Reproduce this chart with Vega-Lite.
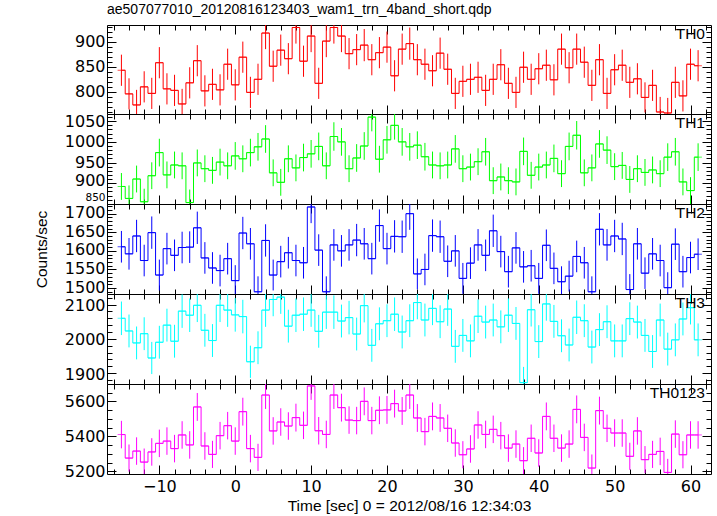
{
"$schema": "https://vega.github.io/schema/vega-lite/v6.json",
"padding": {"left": 33, "top": 3, "right": 7, "bottom": 2},
"title": {"text": "ae507077010_20120816123403_wam1_trn_4band_short.qdp", "anchor": "start", "frame": "group", "font": "Liberation Sans", "fontSize": 14, "fontWeight": "normal", "color": "#000", "offset": 7},
"config": {
 "view": {"stroke": "#000", "strokeWidth": 1},
 "axis": {"domain": false, "grid": false, "tickColor": "#000", "tickWidth": 1, "labelFont": "DejaVu Sans", "labelFontSize": 16, "labelColor": "#000", "titleFont": "Liberation Sans", "titleFontSize": 15.5, "titleFontWeight": "normal", "titleColor": "#000", "labelFlush": false, "labelOverlap": false, "format": "d"}
},
"spacing": 0,
"bounds": "flush",
"datasets": {
"th0": [
{"t":-15,"v":843,"e":31},{"t":-14,"v":796,"e":31},{"t":-13,"v":774,"e":30},{"t":-12,"v":810,"e":31},{"t":-11,"v":797,"e":31},{"t":-10,"v":858,"e":31},{"t":-9,"v":806,"e":31},{"t":-8,"v":803,"e":31},{"t":-7,"v":776,"e":30},{"t":-6,"v":818,"e":31},{"t":-5,"v":862,"e":31},{"t":-4,"v":802,"e":31},{"t":-3,"v":815,"e":31},{"t":-2,"v":804,"e":31},{"t":-1,"v":855,"e":31},{"t":0,"v":814,"e":31},{"t":1,"v":869,"e":31},{"t":2,"v":799,"e":31},{"t":3,"v":825,"e":31},{"t":4,"v":917,"e":32},{"t":5,"v":851,"e":31},{"t":6,"v":883,"e":31},{"t":7,"v":866,"e":31},{"t":8,"v":928,"e":32},{"t":9,"v":861,"e":31},{"t":10,"v":911,"e":32},{"t":11,"v":817,"e":31},{"t":12,"v":901,"e":32},{"t":13,"v":928,"e":32},{"t":14,"v":911,"e":32},{"t":15,"v":876,"e":31},{"t":16,"v":884,"e":31},{"t":17,"v":893,"e":32},{"t":18,"v":864,"e":31},{"t":19,"v":878,"e":31},{"t":20,"v":889,"e":31},{"t":21,"v":832,"e":31},{"t":22,"v":885,"e":31},{"t":23,"v":896,"e":32},{"t":24,"v":864,"e":31},{"t":25,"v":855,"e":31},{"t":26,"v":842,"e":31},{"t":27,"v":877,"e":31},{"t":28,"v":845,"e":31},{"t":29,"v":797,"e":31},{"t":30,"v":821,"e":31},{"t":31,"v":825,"e":31},{"t":32,"v":829,"e":31},{"t":33,"v":803,"e":31},{"t":34,"v":825,"e":31},{"t":35,"v":854,"e":31},{"t":36,"v":817,"e":31},{"t":37,"v":799,"e":31},{"t":38,"v":849,"e":31},{"t":39,"v":825,"e":31},{"t":40,"v":846,"e":31},{"t":41,"v":853,"e":31},{"t":42,"v":824,"e":31},{"t":43,"v":885,"e":31},{"t":44,"v":848,"e":31},{"t":45,"v":885,"e":31},{"t":46,"v":859,"e":31},{"t":47,"v":813,"e":31},{"t":48,"v":864,"e":31},{"t":49,"v":797,"e":31},{"t":50,"v":844,"e":31},{"t":51,"v":853,"e":31},{"t":52,"v":819,"e":31},{"t":53,"v":826,"e":31},{"t":54,"v":789,"e":30},{"t":55,"v":813,"e":31},{"t":56,"v":760,"e":30},{"t":57,"v":758,"e":30},{"t":58,"v":819,"e":31},{"t":59,"v":792,"e":31},{"t":60,"v":855,"e":31},{"t":61,"v":852,"e":31}
],
"th1": [
{"t":-15,"v":892,"e":32.5},{"t":-14,"v":863,"e":31.5},{"t":-13,"v":910,"e":32.5},{"t":-12,"v":855,"e":31.5},{"t":-11,"v":918,"e":32.5},{"t":-10,"v":974,"e":33.5},{"t":-9,"v":920,"e":32.5},{"t":-8,"v":944,"e":32.5},{"t":-7,"v":942,"e":32.5},{"t":-6,"v":853,"e":31.5},{"t":-5,"v":949,"e":32.5},{"t":-4,"v":935,"e":32.5},{"t":-3,"v":931,"e":32.5},{"t":-2,"v":951,"e":32.5},{"t":-1,"v":942,"e":32.5},{"t":0,"v":966,"e":33.5},{"t":1,"v":959,"e":32.5},{"t":2,"v":974,"e":33.5},{"t":3,"v":988,"e":33.5},{"t":4,"v":1007,"e":33.5},{"t":5,"v":925,"e":32.5},{"t":6,"v":902,"e":32.5},{"t":7,"v":959,"e":32.5},{"t":8,"v":937,"e":32.5},{"t":9,"v":962,"e":33.5},{"t":10,"v":971,"e":33.5},{"t":11,"v":989,"e":33.5},{"t":12,"v":942,"e":32.5},{"t":13,"v":1013,"e":34.5},{"t":14,"v":1000,"e":33.5},{"t":15,"v":935,"e":32.5},{"t":16,"v":961,"e":33.5},{"t":17,"v":990,"e":33.5},{"t":18,"v":1060,"e":34.5},{"t":19,"v":958,"e":32.5},{"t":20,"v":1005,"e":33.5},{"t":21,"v":1040,"e":34.5},{"t":22,"v":1000,"e":33.5},{"t":23,"v":988,"e":33.5},{"t":24,"v":992,"e":33.5},{"t":25,"v":964,"e":33.5},{"t":26,"v":944,"e":32.5},{"t":27,"v":942,"e":32.5},{"t":28,"v":944,"e":32.5},{"t":29,"v":983,"e":33.5},{"t":30,"v":935,"e":32.5},{"t":31,"v":939,"e":32.5},{"t":32,"v":952,"e":32.5},{"t":33,"v":976,"e":33.5},{"t":34,"v":906,"e":32.5},{"t":35,"v":915,"e":32.5},{"t":36,"v":906,"e":32.5},{"t":37,"v":903,"e":32.5},{"t":38,"v":977,"e":33.5},{"t":39,"v":919,"e":32.5},{"t":40,"v":939,"e":32.5},{"t":41,"v":944,"e":32.5},{"t":42,"v":960,"e":33.5},{"t":43,"v":923,"e":32.5},{"t":44,"v":989,"e":33.5},{"t":45,"v":1016,"e":34.5},{"t":46,"v":925,"e":32.5},{"t":47,"v":937,"e":32.5},{"t":48,"v":995,"e":33.5},{"t":49,"v":980,"e":33.5},{"t":50,"v":940,"e":32.5},{"t":51,"v":943,"e":32.5},{"t":52,"v":909,"e":32.5},{"t":53,"v":935,"e":32.5},{"t":54,"v":926,"e":32.5},{"t":55,"v":932,"e":32.5},{"t":56,"v":923,"e":32.5},{"t":57,"v":963,"e":33.5},{"t":58,"v":976,"e":33.5},{"t":59,"v":903,"e":32.5},{"t":60,"v":882,"e":32.5},{"t":61,"v":963,"e":33.5}
],
"th2": [
{"t":-15,"v":1611,"e":42.5},{"t":-14,"v":1592,"e":42.5},{"t":-13,"v":1640,"e":43.5},{"t":-12,"v":1574,"e":42.5},{"t":-11,"v":1649,"e":43.5},{"t":-10,"v":1535,"e":41.5},{"t":-9,"v":1606,"e":42.5},{"t":-8,"v":1588,"e":42.5},{"t":-7,"v":1609,"e":42.5},{"t":-6,"v":1610,"e":42.5},{"t":-5,"v":1662,"e":43.5},{"t":-4,"v":1581,"e":42.5},{"t":-3,"v":1554,"e":42.5},{"t":-2,"v":1547,"e":42.5},{"t":-1,"v":1579,"e":42.5},{"t":0,"v":1520,"e":41.5},{"t":1,"v":1648,"e":43.5},{"t":2,"v":1619,"e":42.5},{"t":3,"v":1490,"e":41.5},{"t":4,"v":1628,"e":43.5},{"t":5,"v":1535,"e":41.5},{"t":6,"v":1571,"e":42.5},{"t":7,"v":1595,"e":42.5},{"t":8,"v":1574,"e":42.5},{"t":9,"v":1568,"e":42.5},{"t":10,"v":1718,"e":43.5},{"t":11,"v":1602,"e":42.5},{"t":12,"v":1490,"e":41.5},{"t":13,"v":1616,"e":42.5},{"t":14,"v":1600,"e":42.5},{"t":15,"v":1616,"e":42.5},{"t":16,"v":1629,"e":43.5},{"t":17,"v":1619,"e":42.5},{"t":18,"v":1579,"e":42.5},{"t":19,"v":1668,"e":43.5},{"t":20,"v":1606,"e":42.5},{"t":21,"v":1639,"e":43.5},{"t":22,"v":1638,"e":43.5},{"t":23,"v":1700,"e":43.5},{"t":24,"v":1538,"e":41.5},{"t":25,"v":1550,"e":42.5},{"t":26,"v":1641,"e":43.5},{"t":27,"v":1638,"e":43.5},{"t":28,"v":1572,"e":42.5},{"t":29,"v":1600,"e":42.5},{"t":30,"v":1526,"e":41.5},{"t":31,"v":1567,"e":42.5},{"t":32,"v":1616,"e":42.5},{"t":33,"v":1588,"e":42.5},{"t":34,"v":1654,"e":43.5},{"t":35,"v":1598,"e":42.5},{"t":36,"v":1544,"e":42.5},{"t":37,"v":1608,"e":42.5},{"t":38,"v":1557,"e":42.5},{"t":39,"v":1560,"e":42.5},{"t":40,"v":1526,"e":41.5},{"t":41,"v":1615,"e":42.5},{"t":42,"v":1553,"e":42.5},{"t":43,"v":1517,"e":41.5},{"t":44,"v":1532,"e":41.5},{"t":45,"v":1585,"e":42.5},{"t":46,"v":1568,"e":42.5},{"t":47,"v":1490,"e":41.5},{"t":48,"v":1658,"e":43.5},{"t":49,"v":1616,"e":42.5},{"t":50,"v":1640,"e":43.5},{"t":51,"v":1632,"e":43.5},{"t":52,"v":1496,"e":41.5},{"t":53,"v":1619,"e":42.5},{"t":54,"v":1540,"e":42.5},{"t":55,"v":1592,"e":42.5},{"t":56,"v":1574,"e":42.5},{"t":57,"v":1501,"e":41.5},{"t":58,"v":1618,"e":42.5},{"t":59,"v":1544,"e":42.5},{"t":60,"v":1582,"e":42.5},{"t":61,"v":1591,"e":42.5}
],
"th3": [
{"t":-15,"v":2060,"e":49},{"t":-14,"v":2023,"e":48},{"t":-13,"v":1988,"e":48},{"t":-12,"v":2015,"e":48},{"t":-11,"v":1944,"e":47},{"t":-10,"v":1990,"e":48},{"t":-9,"v":2040,"e":48},{"t":-8,"v":1993,"e":48},{"t":-7,"v":2081,"e":49},{"t":-6,"v":2069,"e":49},{"t":-5,"v":2098,"e":49},{"t":-4,"v":2025,"e":48},{"t":-3,"v":1995,"e":48},{"t":-2,"v":2098,"e":49},{"t":-1,"v":2084,"e":49},{"t":0,"v":2070,"e":49},{"t":1,"v":2065,"e":49},{"t":2,"v":1933,"e":47},{"t":3,"v":1974,"e":48},{"t":4,"v":2084,"e":49},{"t":5,"v":2115,"e":49},{"t":6,"v":2122,"e":49},{"t":7,"v":2037,"e":48},{"t":8,"v":2069,"e":49},{"t":9,"v":2072,"e":49},{"t":10,"v":2084,"e":49},{"t":11,"v":2022,"e":48},{"t":12,"v":2078,"e":49},{"t":13,"v":2078,"e":49},{"t":14,"v":2052,"e":48},{"t":15,"v":2062,"e":49},{"t":16,"v":2014,"e":48},{"t":17,"v":2097,"e":49},{"t":18,"v":1981,"e":48},{"t":19,"v":2044,"e":48},{"t":20,"v":2053,"e":48},{"t":21,"v":2072,"e":49},{"t":22,"v":2020,"e":48},{"t":23,"v":2053,"e":48},{"t":24,"v":2106,"e":49},{"t":25,"v":2055,"e":48},{"t":26,"v":2089,"e":49},{"t":27,"v":2050,"e":48},{"t":28,"v":2087,"e":49},{"t":29,"v":1978,"e":48},{"t":30,"v":2010,"e":48},{"t":31,"v":1994,"e":48},{"t":32,"v":2066,"e":49},{"t":33,"v":2049,"e":48},{"t":34,"v":2055,"e":48},{"t":35,"v":2035,"e":48},{"t":36,"v":2069,"e":49},{"t":37,"v":2045,"e":48},{"t":38,"v":1872,"e":46},{"t":39,"v":2085,"e":49},{"t":40,"v":1992,"e":48},{"t":41,"v":2102,"e":49},{"t":42,"v":2051,"e":48},{"t":43,"v":2009,"e":48},{"t":44,"v":1982,"e":48},{"t":45,"v":2063,"e":49},{"t":46,"v":2053,"e":48},{"t":47,"v":1976,"e":48},{"t":48,"v":2027,"e":48},{"t":49,"v":2050,"e":48},{"t":50,"v":1994,"e":48},{"t":51,"v":1994,"e":48},{"t":52,"v":2059,"e":48},{"t":53,"v":2049,"e":48},{"t":54,"v":2010,"e":48},{"t":55,"v":1963,"e":48},{"t":56,"v":2055,"e":48},{"t":57,"v":1970,"e":48},{"t":58,"v":1997,"e":48},{"t":59,"v":2058,"e":48},{"t":60,"v":2091,"e":49},{"t":61,"v":1997,"e":48}
],
"th0123": [
{"t":-15,"v":5410,"e":78.5},{"t":-14,"v":5276,"e":77.5},{"t":-13,"v":5316,"e":78.5},{"t":-12,"v":5253,"e":77.5},{"t":-11,"v":5311,"e":78.5},{"t":-10,"v":5360,"e":78.5},{"t":-9,"v":5373,"e":78.5},{"t":-8,"v":5330,"e":78.5},{"t":-7,"v":5408,"e":78.5},{"t":-6,"v":5351,"e":78.5},{"t":-5,"v":5568,"e":79.5},{"t":-4,"v":5345,"e":78.5},{"t":-3,"v":5297,"e":77.5},{"t":-2,"v":5404,"e":78.5},{"t":-1,"v":5461,"e":78.5},{"t":0,"v":5373,"e":78.5},{"t":1,"v":5541,"e":79.5},{"t":2,"v":5330,"e":78.5},{"t":3,"v":5280,"e":77.5},{"t":4,"v":5636,"e":79.5},{"t":5,"v":5431,"e":78.5},{"t":6,"v":5482,"e":78.5},{"t":7,"v":5459,"e":78.5},{"t":8,"v":5507,"e":79.5},{"t":9,"v":5463,"e":78.5},{"t":10,"v":5688,"e":79.5},{"t":11,"v":5432,"e":78.5},{"t":12,"v":5411,"e":78.5},{"t":13,"v":5636,"e":79.5},{"t":14,"v":5564,"e":79.5},{"t":15,"v":5493,"e":78.5},{"t":16,"v":5490,"e":78.5},{"t":17,"v":5600,"e":79.5},{"t":18,"v":5490,"e":78.5},{"t":19,"v":5549,"e":79.5},{"t":20,"v":5551,"e":79.5},{"t":21,"v":5587,"e":79.5},{"t":22,"v":5545,"e":79.5},{"t":23,"v":5636,"e":79.5},{"t":24,"v":5505,"e":79.5},{"t":25,"v":5427,"e":78.5},{"t":26,"v":5514,"e":79.5},{"t":27,"v":5505,"e":79.5},{"t":28,"v":5446,"e":78.5},{"t":29,"v":5362,"e":78.5},{"t":30,"v":5295,"e":77.5},{"t":31,"v":5328,"e":78.5},{"t":32,"v":5465,"e":78.5},{"t":33,"v":5411,"e":78.5},{"t":34,"v":5440,"e":78.5},{"t":35,"v":5404,"e":78.5},{"t":36,"v":5333,"e":78.5},{"t":37,"v":5356,"e":78.5},{"t":38,"v":5261,"e":77.5},{"t":39,"v":5389,"e":78.5},{"t":40,"v":5305,"e":78.5},{"t":41,"v":5514,"e":79.5},{"t":42,"v":5389,"e":78.5},{"t":43,"v":5333,"e":78.5},{"t":44,"v":5356,"e":78.5},{"t":45,"v":5554,"e":79.5},{"t":46,"v":5394,"e":78.5},{"t":47,"v":5219,"e":77.5},{"t":48,"v":5547,"e":79.5},{"t":49,"v":5446,"e":78.5},{"t":50,"v":5419,"e":78.5},{"t":51,"v":5419,"e":78.5},{"t":52,"v":5286,"e":77.5},{"t":53,"v":5431,"e":78.5},{"t":54,"v":5267,"e":77.5},{"t":55,"v":5297,"e":77.5},{"t":56,"v":5314,"e":78.5},{"t":57,"v":5194,"e":77.5},{"t":58,"v":5413,"e":78.5},{"t":59,"v":5295,"e":77.5},{"t":60,"v":5408,"e":78.5},{"t":61,"v":5408,"e":78.5}
]
},
"vconcat": [
{
 "data": {"name": "th0"}, "width": 604, "height": 89,
 "resolve": {"axis": {"x": "independent", "y": "independent"}},
 "layer": [
  {"mark": {"type": "line", "interpolate": "step", "color": "#ff0000", "strokeWidth": 1, "clip": true},
   "encoding": {"x": {"field": "t", "type": "quantitative", "scale": {"domain": [-16.9, 62.7], "nice": false, "zero": false}, "axis": null},
                "y": {"field": "v", "type": "quantitative", "scale": {"domain": [756, 933], "nice": false, "zero": false}, "axis": {"orient": "left", "values": [800, 850, 900], "ticks": false, "labelPadding": 2, "title": null}}}},
  {"mark": {"type": "point", "opacity": 0, "clip": true},
   "encoding": {"x": {"field": "t", "type": "quantitative", "axis": {"orient": "bottom", "values": [-10,0,10,20,30,40,50,60], "labels": false, "tickSize": -9, "title": null}},
                "y": {"field": "v", "type": "quantitative", "axis": {"orient": "left", "values": [800, 850, 900], "labels": false, "tickSize": -9, "title": null}}}},
  {"mark": {"type": "point", "opacity": 0, "clip": true},
   "encoding": {"x": {"field": "t", "type": "quantitative", "axis": {"orient": "bottom", "values": [-16,-14,-12,-10,-8,-6,-4,-2,0,2,4,6,8,10,12,14,16,18,20,22,24,26,28,30,32,34,36,38,40,42,44,46,48,50,52,54,56,58,60,62], "labels": false, "tickSize": -5, "title": null}},
                "y": {"field": "v", "type": "quantitative", "axis": {"orient": "left", "values": [760,770,780,790,800,810,820,830,840,850,860,870,880,890,900,910,920,930], "labels": false, "tickSize": -5, "title": null}}}},
  {"mark": {"type": "point", "opacity": 0, "clip": true},
   "encoding": {"x": {"field": "t", "type": "quantitative", "axis": {"orient": "top", "values": [-10,0,10,20,30,40,50,60], "labels": false, "tickSize": -9, "title": null}},
                "y": {"field": "v", "type": "quantitative", "axis": {"orient": "right", "values": [800, 850, 900], "labels": false, "tickSize": -9, "title": null}}}},
  {"mark": {"type": "point", "opacity": 0, "clip": true},
   "encoding": {"x": {"field": "t", "type": "quantitative", "axis": {"orient": "top", "values": [-16,-14,-12,-10,-8,-6,-4,-2,0,2,4,6,8,10,12,14,16,18,20,22,24,26,28,30,32,34,36,38,40,42,44,46,48,50,52,54,56,58,60,62], "labels": false, "tickSize": -5, "title": null}},
                "y": {"field": "v", "type": "quantitative", "axis": {"orient": "right", "values": [760,770,780,790,800,810,820,830,840,850,860,870,880,890,900,910,920,930], "labels": false, "tickSize": -5, "title": null}}}},
  {"mark": {"type": "errorbar", "color": "#ff0000", "clip": true},
   "encoding": {"x": {"field": "t", "type": "quantitative", "axis": null}, "y": {"field": "v", "type": "quantitative", "axis": null}, "yError": {"field": "e"}}},
  {"mark": {"type": "tick", "orient": "horizontal", "size": 7.6, "thickness": 1, "color": "#ff0000", "clip": true},
   "encoding": {"x": {"field": "t", "type": "quantitative", "axis": null}, "y": {"field": "v", "type": "quantitative", "axis": null}}},
  {"data": {"values": [{"lab": "TH0"}]},
   "mark": {"type": "text", "align": "right", "baseline": "top", "dx": -6, "dy": 2, "font": "Liberation Sans", "fontSize": 15.5, "color": "#000"},
   "encoding": {"x": {"datum": 62.7, "type": "quantitative", "axis": null}, "y": {"datum": 933, "type": "quantitative", "axis": null}, "text": {"field": "lab"}}}
 ]
},
{
 "data": {"name": "th1"}, "width": 604, "height": 90,
 "resolve": {"axis": {"x": "independent", "y": "independent"}},
 "layer": [
  {"mark": {"type": "line", "interpolate": "step", "color": "#00ff00", "strokeWidth": 1, "clip": true},
   "encoding": {"x": {"field": "t", "type": "quantitative", "scale": {"domain": [-16.9, 62.7], "nice": false, "zero": false}, "axis": null},
                "y": {"field": "v", "type": "quantitative", "scale": {"domain": [849.5, 1067.5], "nice": false, "zero": false}, "axis": {"orient": "left", "values": [950, 1000, 1050], "ticks": false, "labelPadding": 2, "title": null}}}},
  {"mark": {"type": "point", "opacity": 0, "clip": true},
   "encoding": {"x": {"field": "t", "type": "quantitative", "axis": null},
                "y": {"field": "v", "type": "quantitative", "axis": {"orient": "left", "values": [900], "ticks": false, "labelPadding": 2, "labelOffset": -2.5, "title": null}}}},
  {"mark": {"type": "point", "opacity": 0, "clip": true},
   "encoding": {"x": {"field": "t", "type": "quantitative", "axis": null},
                "y": {"field": "v", "type": "quantitative", "axis": {"orient": "left", "values": [850], "ticks": false, "labelPadding": 2, "labelBaseline": "bottom", "labelFontSize": 10.5, "labelOffset": -1.5, "title": null}}}},
  {"mark": {"type": "point", "opacity": 0, "clip": true},
   "encoding": {"x": {"field": "t", "type": "quantitative", "axis": {"orient": "bottom", "values": [-10,0,10,20,30,40,50,60], "labels": false, "tickSize": -9, "title": null}},
                "y": {"field": "v", "type": "quantitative", "axis": {"orient": "left", "values": [850, 900, 950, 1000, 1050], "labels": false, "tickSize": -9, "title": null}}}},
  {"mark": {"type": "point", "opacity": 0, "clip": true},
   "encoding": {"x": {"field": "t", "type": "quantitative", "axis": {"orient": "bottom", "values": [-16,-14,-12,-10,-8,-6,-4,-2,0,2,4,6,8,10,12,14,16,18,20,22,24,26,28,30,32,34,36,38,40,42,44,46,48,50,52,54,56,58,60,62], "labels": false, "tickSize": -5, "title": null}},
                "y": {"field": "v", "type": "quantitative", "axis": {"orient": "left", "values": [860,870,880,890,900,910,920,930,940,950,960,970,980,990,1000,1010,1020,1030,1040,1050,1060], "labels": false, "tickSize": -5, "title": null}}}},
  {"mark": {"type": "point", "opacity": 0, "clip": true},
   "encoding": {"x": {"field": "t", "type": "quantitative", "axis": {"orient": "top", "values": [-10,0,10,20,30,40,50,60], "labels": false, "tickSize": -9, "title": null}},
                "y": {"field": "v", "type": "quantitative", "axis": {"orient": "right", "values": [850, 900, 950, 1000, 1050], "labels": false, "tickSize": -9, "title": null}}}},
  {"mark": {"type": "point", "opacity": 0, "clip": true},
   "encoding": {"x": {"field": "t", "type": "quantitative", "axis": {"orient": "top", "values": [-16,-14,-12,-10,-8,-6,-4,-2,0,2,4,6,8,10,12,14,16,18,20,22,24,26,28,30,32,34,36,38,40,42,44,46,48,50,52,54,56,58,60,62], "labels": false, "tickSize": -5, "title": null}},
                "y": {"field": "v", "type": "quantitative", "axis": {"orient": "right", "values": [860,870,880,890,900,910,920,930,940,950,960,970,980,990,1000,1010,1020,1030,1040,1050,1060], "labels": false, "tickSize": -5, "title": null}}}},
  {"mark": {"type": "errorbar", "color": "#00ff00", "clip": true},
   "encoding": {"x": {"field": "t", "type": "quantitative", "axis": null}, "y": {"field": "v", "type": "quantitative", "axis": null}, "yError": {"field": "e"}}},
  {"mark": {"type": "tick", "orient": "horizontal", "size": 7.6, "thickness": 1, "color": "#00ff00", "clip": true},
   "encoding": {"x": {"field": "t", "type": "quantitative", "axis": null}, "y": {"field": "v", "type": "quantitative", "axis": null}}},
  {"data": {"values": [{"lab": "TH1"}]},
   "mark": {"type": "text", "align": "right", "baseline": "top", "dx": -6, "dy": 2, "font": "Liberation Sans", "fontSize": 15.5, "color": "#000"},
   "encoding": {"x": {"datum": 62.7, "type": "quantitative", "axis": null}, "y": {"datum": 1067.5, "type": "quantitative", "axis": null}, "text": {"field": "lab"}}}
 ]
},
{
 "data": {"name": "th2"}, "width": 604, "height": 90,
 "resolve": {"axis": {"x": "independent", "y": "independent"}},
 "layer": [
  {"mark": {"type": "line", "interpolate": "step", "color": "#0000ff", "strokeWidth": 1, "clip": true},
   "encoding": {"x": {"field": "t", "type": "quantitative", "scale": {"domain": [-16.9, 62.7], "nice": false, "zero": false}, "axis": null},
                "y": {"field": "v", "type": "quantitative", "scale": {"domain": [1484, 1726], "nice": false, "zero": false}, "axis": {"orient": "left", "values": [1500, 1550, 1600, 1650, 1700], "ticks": false, "labelPadding": 2, "labelOffset": -1, "title": "Counts/sec", "titlePadding": 15}}}},
  {"mark": {"type": "point", "opacity": 0, "clip": true},
   "encoding": {"x": {"field": "t", "type": "quantitative", "axis": {"orient": "bottom", "values": [-10,0,10,20,30,40,50,60], "labels": false, "tickSize": -9, "title": null}},
                "y": {"field": "v", "type": "quantitative", "axis": {"orient": "left", "values": [1500, 1550, 1600, 1650, 1700], "labels": false, "tickSize": -9, "title": null}}}},
  {"mark": {"type": "point", "opacity": 0, "clip": true},
   "encoding": {"x": {"field": "t", "type": "quantitative", "axis": {"orient": "bottom", "values": [-16,-14,-12,-10,-8,-6,-4,-2,0,2,4,6,8,10,12,14,16,18,20,22,24,26,28,30,32,34,36,38,40,42,44,46,48,50,52,54,56,58,60,62], "labels": false, "tickSize": -5, "title": null}},
                "y": {"field": "v", "type": "quantitative", "axis": {"orient": "left", "values": [1490,1500,1510,1520,1530,1540,1550,1560,1570,1580,1590,1600,1610,1620,1630,1640,1650,1660,1670,1680,1690,1700,1710,1720], "labels": false, "tickSize": -5, "title": null}}}},
  {"mark": {"type": "point", "opacity": 0, "clip": true},
   "encoding": {"x": {"field": "t", "type": "quantitative", "axis": {"orient": "top", "values": [-10,0,10,20,30,40,50,60], "labels": false, "tickSize": -9, "title": null}},
                "y": {"field": "v", "type": "quantitative", "axis": {"orient": "right", "values": [1500, 1550, 1600, 1650, 1700], "labels": false, "tickSize": -9, "title": null}}}},
  {"mark": {"type": "point", "opacity": 0, "clip": true},
   "encoding": {"x": {"field": "t", "type": "quantitative", "axis": {"orient": "top", "values": [-16,-14,-12,-10,-8,-6,-4,-2,0,2,4,6,8,10,12,14,16,18,20,22,24,26,28,30,32,34,36,38,40,42,44,46,48,50,52,54,56,58,60,62], "labels": false, "tickSize": -5, "title": null}},
                "y": {"field": "v", "type": "quantitative", "axis": {"orient": "right", "values": [1490,1500,1510,1520,1530,1540,1550,1560,1570,1580,1590,1600,1610,1620,1630,1640,1650,1660,1670,1680,1690,1700,1710,1720], "labels": false, "tickSize": -5, "title": null}}}},
  {"mark": {"type": "errorbar", "color": "#0000ff", "clip": true},
   "encoding": {"x": {"field": "t", "type": "quantitative", "axis": null}, "y": {"field": "v", "type": "quantitative", "axis": null}, "yError": {"field": "e"}}},
  {"mark": {"type": "tick", "orient": "horizontal", "size": 7.6, "thickness": 1, "color": "#0000ff", "clip": true},
   "encoding": {"x": {"field": "t", "type": "quantitative", "axis": null}, "y": {"field": "v", "type": "quantitative", "axis": null}}},
  {"data": {"values": [{"lab": "TH2"}]},
   "mark": {"type": "text", "align": "right", "baseline": "top", "dx": -6, "dy": 2, "font": "Liberation Sans", "fontSize": 15.5, "color": "#000"},
   "encoding": {"x": {"datum": 62.7, "type": "quantitative", "axis": null}, "y": {"datum": 1726, "type": "quantitative", "axis": null}, "text": {"field": "lab"}}}
 ]
},
{
 "data": {"name": "th3"}, "width": 604, "height": 90,
 "resolve": {"axis": {"x": "independent", "y": "independent"}},
 "layer": [
  {"mark": {"type": "line", "interpolate": "step", "color": "#00ffff", "strokeWidth": 1, "clip": true},
   "encoding": {"x": {"field": "t", "type": "quantitative", "scale": {"domain": [-16.9, 62.7], "nice": false, "zero": false}, "axis": null},
                "y": {"field": "v", "type": "quantitative", "scale": {"domain": [1868, 2131], "nice": false, "zero": false}, "axis": {"orient": "left", "values": [1900, 2000, 2100], "ticks": false, "labelPadding": 2, "labelOffset": 1, "title": null}}}},
  {"mark": {"type": "point", "opacity": 0, "clip": true},
   "encoding": {"x": {"field": "t", "type": "quantitative", "axis": {"orient": "bottom", "values": [-10,0,10,20,30,40,50,60], "labels": false, "tickSize": -9, "title": null}},
                "y": {"field": "v", "type": "quantitative", "axis": {"orient": "left", "values": [1900, 2000, 2100], "labels": false, "tickSize": -9, "title": null}}}},
  {"mark": {"type": "point", "opacity": 0, "clip": true},
   "encoding": {"x": {"field": "t", "type": "quantitative", "axis": {"orient": "bottom", "values": [-16,-14,-12,-10,-8,-6,-4,-2,0,2,4,6,8,10,12,14,16,18,20,22,24,26,28,30,32,34,36,38,40,42,44,46,48,50,52,54,56,58,60,62], "labels": false, "tickSize": -5, "title": null}},
                "y": {"field": "v", "type": "quantitative", "axis": {"orient": "left", "values": [1880,1900,1920,1940,1960,1980,2000,2020,2040,2060,2080,2100,2120], "labels": false, "tickSize": -5, "title": null}}}},
  {"mark": {"type": "point", "opacity": 0, "clip": true},
   "encoding": {"x": {"field": "t", "type": "quantitative", "axis": {"orient": "top", "values": [-10,0,10,20,30,40,50,60], "labels": false, "tickSize": -9, "title": null}},
                "y": {"field": "v", "type": "quantitative", "axis": {"orient": "right", "values": [1900, 2000, 2100], "labels": false, "tickSize": -9, "title": null}}}},
  {"mark": {"type": "point", "opacity": 0, "clip": true},
   "encoding": {"x": {"field": "t", "type": "quantitative", "axis": {"orient": "top", "values": [-16,-14,-12,-10,-8,-6,-4,-2,0,2,4,6,8,10,12,14,16,18,20,22,24,26,28,30,32,34,36,38,40,42,44,46,48,50,52,54,56,58,60,62], "labels": false, "tickSize": -5, "title": null}},
                "y": {"field": "v", "type": "quantitative", "axis": {"orient": "right", "values": [1880,1900,1920,1940,1960,1980,2000,2020,2040,2060,2080,2100,2120], "labels": false, "tickSize": -5, "title": null}}}},
  {"mark": {"type": "errorbar", "color": "#00ffff", "clip": true},
   "encoding": {"x": {"field": "t", "type": "quantitative", "axis": null}, "y": {"field": "v", "type": "quantitative", "axis": null}, "yError": {"field": "e"}}},
  {"mark": {"type": "tick", "orient": "horizontal", "size": 7.6, "thickness": 1, "color": "#00ffff", "clip": true},
   "encoding": {"x": {"field": "t", "type": "quantitative", "axis": null}, "y": {"field": "v", "type": "quantitative", "axis": null}}},
  {"data": {"values": [{"lab": "TH3"}]},
   "mark": {"type": "text", "align": "right", "baseline": "top", "dx": -6, "dy": 2, "font": "Liberation Sans", "fontSize": 15.5, "color": "#000"},
   "encoding": {"x": {"datum": 62.7, "type": "quantitative", "axis": null}, "y": {"datum": 2131, "type": "quantitative", "axis": null}, "text": {"field": "lab"}}}
 ]
},
{
 "data": {"name": "th0123"}, "width": 604, "height": 90,
 "resolve": {"axis": {"x": "independent", "y": "independent"}},
 "layer": [
  {"mark": {"type": "line", "interpolate": "step", "color": "#ff00ff", "strokeWidth": 1, "clip": true},
   "encoding": {"x": {"field": "t", "type": "quantitative", "scale": {"domain": [-16.9, 62.7], "nice": false, "zero": false}, "axis": {"orient": "bottom", "values": [-10,0,10,20,30,40,50,60], "ticks": false, "labelPadding": 4, "title": "Time [sec] 0 = 2012/08/16 12:34:03", "titlePadding": 4}},
                "y": {"field": "v", "type": "quantitative", "scale": {"domain": [5185, 5699], "nice": false, "zero": false}, "axis": {"orient": "left", "values": [5200, 5400, 5600], "ticks": false, "labelPadding": 2, "title": null}}}},
  {"mark": {"type": "point", "opacity": 0, "clip": true},
   "encoding": {"x": {"field": "t", "type": "quantitative", "axis": {"orient": "bottom", "values": [-10,0,10,20,30,40,50,60], "labels": false, "tickSize": -9, "title": null}},
                "y": {"field": "v", "type": "quantitative", "axis": {"orient": "left", "values": [5200, 5400, 5600], "labels": false, "tickSize": -9, "title": null}}}},
  {"mark": {"type": "point", "opacity": 0, "clip": true},
   "encoding": {"x": {"field": "t", "type": "quantitative", "axis": {"orient": "bottom", "values": [-16,-14,-12,-10,-8,-6,-4,-2,0,2,4,6,8,10,12,14,16,18,20,22,24,26,28,30,32,34,36,38,40,42,44,46,48,50,52,54,56,58,60,62], "labels": false, "tickSize": -5, "title": null}},
                "y": {"field": "v", "type": "quantitative", "axis": {"orient": "left", "values": [5200,5250,5300,5350,5400,5450,5500,5550,5600,5650], "labels": false, "tickSize": -5, "title": null}}}},
  {"mark": {"type": "point", "opacity": 0, "clip": true},
   "encoding": {"x": {"field": "t", "type": "quantitative", "axis": {"orient": "top", "values": [-10,0,10,20,30,40,50,60], "labels": false, "tickSize": -9, "title": null}},
                "y": {"field": "v", "type": "quantitative", "axis": {"orient": "right", "values": [5200, 5400, 5600], "labels": false, "tickSize": -9, "title": null}}}},
  {"mark": {"type": "point", "opacity": 0, "clip": true},
   "encoding": {"x": {"field": "t", "type": "quantitative", "axis": {"orient": "top", "values": [-16,-14,-12,-10,-8,-6,-4,-2,0,2,4,6,8,10,12,14,16,18,20,22,24,26,28,30,32,34,36,38,40,42,44,46,48,50,52,54,56,58,60,62], "labels": false, "tickSize": -5, "title": null}},
                "y": {"field": "v", "type": "quantitative", "axis": {"orient": "right", "values": [5200,5250,5300,5350,5400,5450,5500,5550,5600,5650], "labels": false, "tickSize": -5, "title": null}}}},
  {"mark": {"type": "errorbar", "color": "#ff00ff", "clip": true},
   "encoding": {"x": {"field": "t", "type": "quantitative", "axis": null}, "y": {"field": "v", "type": "quantitative", "axis": null}, "yError": {"field": "e"}}},
  {"mark": {"type": "tick", "orient": "horizontal", "size": 7.6, "thickness": 1, "color": "#ff00ff", "clip": true},
   "encoding": {"x": {"field": "t", "type": "quantitative", "axis": null}, "y": {"field": "v", "type": "quantitative", "axis": null}}},
  {"data": {"values": [{"lab": "TH0123"}]},
   "mark": {"type": "text", "align": "right", "baseline": "top", "dx": -6, "dy": 2, "font": "Liberation Sans", "fontSize": 15.5, "color": "#000"},
   "encoding": {"x": {"datum": 62.7, "type": "quantitative", "axis": null}, "y": {"datum": 5699, "type": "quantitative", "axis": null}, "text": {"field": "lab"}}}
 ]
}
]
}
